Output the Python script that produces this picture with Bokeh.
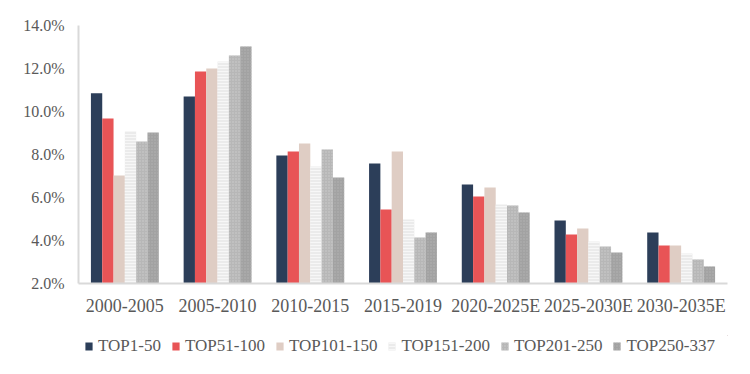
from bokeh.plotting import figure
from bokeh.layouts import column
from bokeh.models import ColumnDataSource, FactorRange, Legend, LegendItem, NumeralTickFormatter
from bokeh.transform import dodge
from bokeh.embed import file_html
from bokeh.resources import INLINE

periods = ["2000-2005", "2005-2010", "2010-2015", "2015-2019", "2020-2025E", "2025-2030E", "2030-2035E"]
series_names = ["TOP1-50", "TOP51-100", "TOP101-150", "TOP151-200", "TOP201-250", "TOP250-337"]

top1_50 = [10.85, 10.70, 7.95, 7.58, 6.60, 4.93, 4.37]
top51_100 = [9.67, 11.86, 8.14, 5.44, 6.05, 4.28, 3.77]
top101_150 = [7.02, 12.00, 8.51, 8.14, 6.47, 4.56, 3.77]
top151_200 = [9.07, 12.33, 7.44, 4.98, 5.67, 3.95, 3.40]
top201_250 = [8.60, 12.60, 8.23, 4.14, 5.63, 3.72, 3.12]
top250_337 = [9.02, 13.02, 6.93, 4.37, 5.30, 3.44, 2.79]

series_values = [top1_50, top51_100, top101_150, top151_200, top201_250, top250_337]
colors = ["#2c3e59", "#e85456", "#dfcdc4", "#ebebeb", "#b7b7b7", "#a2a2a2"]
hatches = [None, None, None, "-", ".", "."]
hatch_colors = [None, None, None, "#f7f7f7", "#cdcdcd", "#b4b4b4"]
y_ticks = [2, 4, 6, 8, 10, 12, 14]

FONT = "Liberation Serif"
TXT = "#595959"

data = {"period": periods}
for i, vals in enumerate(series_values):
    data[f"s{i}"] = [v / 100.0 for v in vals]
source = ColumnDataSource(data)


def style_kwargs(i):
    kw = dict(fill_color=colors[i], line_color=None)
    if hatches[i]:
        kw.update(hatch_pattern=hatches[i], hatch_color=hatch_colors[i], hatch_scale=3, hatch_weight=1)
    return kw


p = figure(x_range=FactorRange(*periods, range_padding=0.0), y_range=(0.02, 0.14),
           width=742, height=335, output_backend="svg", toolbar_location=None,
           min_border_left=78, min_border_right=15, min_border_top=25, min_border_bottom=52)
p.outline_line_color = None
p.xgrid.grid_line_color = None
p.ygrid.grid_line_color = None

bw = 0.122
offsets = [(-2.5 + i) * bw for i in range(6)]
for i in range(6):
    p.vbar(x=dodge("period", offsets[i], range=p.x_range), top=f"s{i}", bottom=0.02,
           width=bw, source=source, **style_kwargs(i))

p.yaxis.ticker = [t / 100.0 for t in y_ticks]
p.yaxis.formatter = NumeralTickFormatter(format="0.0%")
p.yaxis.major_label_text_font = FONT
p.yaxis.major_label_text_font_size = "16px"
p.yaxis.major_label_text_color = TXT
p.yaxis.axis_line_color = "#d9d9d9"
p.yaxis.axis_line_width = 2
p.yaxis.major_tick_line_color = None
p.yaxis.minor_tick_line_color = None
p.yaxis.major_tick_out = 0
p.yaxis.major_label_standoff = 14

p.xaxis.major_label_text_font = FONT
p.xaxis.major_label_text_font_size = "18px"
p.xaxis.major_label_text_color = TXT
p.xaxis.axis_line_color = "#d9d9d9"
p.xaxis.axis_line_width = 2
p.xaxis.major_tick_line_color = None
p.xaxis.minor_tick_line_color = None
p.xaxis.major_tick_out = 0
p.xaxis.major_label_standoff = 12

# legend strip below the chart
pl = figure(width=742, height=31, x_range=(0, 1), y_range=(0, 1), output_backend="svg",
            toolbar_location=None, x_axis_type=None, y_axis_type=None,
            min_border_left=0, min_border_right=0, min_border_top=0, min_border_bottom=0)
pl.outline_line_color = None
pl.xgrid.grid_line_color = None
pl.ygrid.grid_line_color = None
swatches = []
for i in range(6):
    # one point placed outside the visible range, used only for the legend swatch
    swatches.append(pl.vbar(x=[5.0], top=[5.0], bottom=[4.0], width=0.1, **style_kwargs(i)))

legend = Legend(items=[LegendItem(label=series_names[i], renderers=[swatches[i]]) for i in range(6)],
                orientation="horizontal", location=(6, 10),
                label_text_font=FONT, label_text_font_size="17px", label_text_color=TXT,
                glyph_width=9, glyph_height=10, label_standoff=5, spacing=10,
                padding=0, margin=0, border_line_color=None, background_fill_alpha=0)
pl.add_layout(legend, "center")

layout = column(p, pl, spacing=0)
open("out.html", "w").write(file_html(layout, INLINE))
